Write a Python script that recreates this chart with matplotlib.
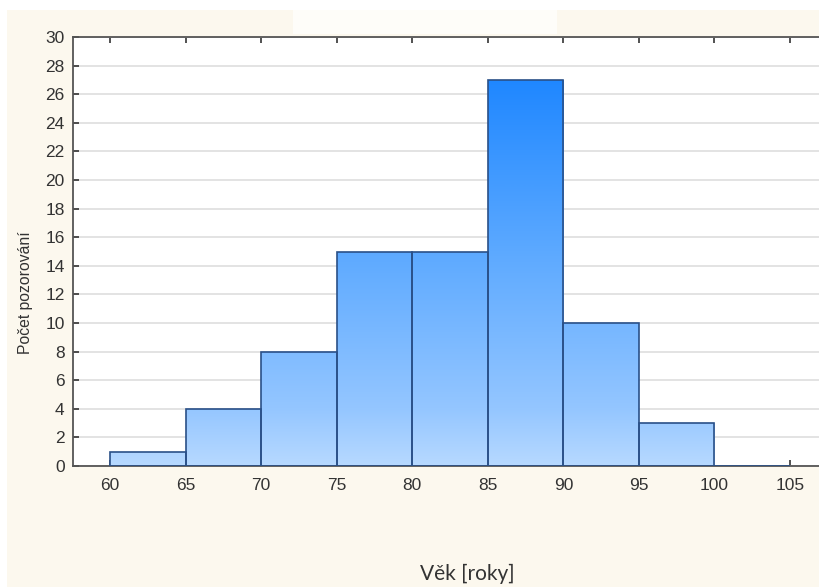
import matplotlib
matplotlib.use('Agg')
import matplotlib.pyplot as plt
from matplotlib.colors import LinearSegmentedColormap
from matplotlib.patches import Rectangle
import numpy as np

plt.rcParams['font.family'] = ['Liberation Sans', 'DejaVu Sans']

# histogram data
bin_edges = [60, 65, 70, 75, 80, 85, 90, 95, 100, 105]
counts = [1, 4, 8, 15, 15, 27, 10, 3, 0]
xticks = [60, 65, 70, 75, 80, 85, 90, 95, 100, 105]
yticks = list(range(0, 31, 2))

cream = '#fcf8ee'
fig = plt.figure(figsize=(8.2, 5.87), dpi=100)
fig.patch.set_facecolor('white')
# cream backdrop like the original screenshot
fig.patches.append(Rectangle((7 / 820, 0), 1, 1 - 10 / 587, transform=fig.transFigure,
                             facecolor=cream, edgecolor='none', zorder=-10))
fig.patches.append(Rectangle((293 / 820, 1 - 34 / 587), 264 / 820, 24 / 587,
                             transform=fig.transFigure, facecolor='#fefdf9',
                             edgecolor='none', zorder=-9))

ax = fig.add_axes([73 / 820, 121 / 587, 1.02 - 73 / 820, (466 - 37) / 587])
ax.set_facecolor('white')

xmin, xmax = 57.55, 108.07
ax.set_xlim(xmin, xmax)
ax.set_ylim(0, 30)

cmap = LinearSegmentedColormap.from_list(
    'blu', [(0, '#b7d9ff'), (0.133, '#94c6ff'), (0.5, '#5ca9ff'),
            (0.9, '#1f87ff'), (1, '#0f7cff')])
grad = np.linspace(0, 1, 256).reshape(-1, 1)

widths = np.diff(bin_edges)
bars = ax.bar(bin_edges[:-1], counts, width=widths, align='edge',
              facecolor='none', edgecolor='#2a5088', linewidth=1.2, zorder=3)
for b in bars:
    im = ax.imshow(grad, cmap=cmap, origin='lower', aspect='auto',
                   extent=(xmin, xmax, 0, 30), zorder=2, vmin=0, vmax=1)
    im.set_clip_path(b)

ax.set_xticks(xticks)
ax.set_yticks(yticks)
ax.grid(axis='y', color='#dedede', linewidth=1.2, zorder=0)
ax.set_axisbelow(True)

for s in ['left', 'bottom', 'top']:
    ax.spines[s].set_color('#555555')
    ax.spines[s].set_linewidth(1.3)
ax.spines['right'].set_visible(False)

ax.tick_params(axis='both', direction='in', length=4, width=1.2, color='#333333',
               labelsize=12.5, labelcolor='#333333', top=True, pad=9)
ax.tick_params(axis='y', pad=6)

ax.set_ylabel('Počet pozorování', fontsize=11.3, color='#333333')
ax.yaxis.set_label_coords(-0.052, 0.403)
ax.set_xlabel('Věk [roky]', fontsize=15, family='Lato', color='#333333')
ax.xaxis.set_label_coords((467 - 73) / (820 * 1.02 - 73), -0.228)

fig.savefig('out.png', dpi=100, facecolor=fig.get_facecolor())
